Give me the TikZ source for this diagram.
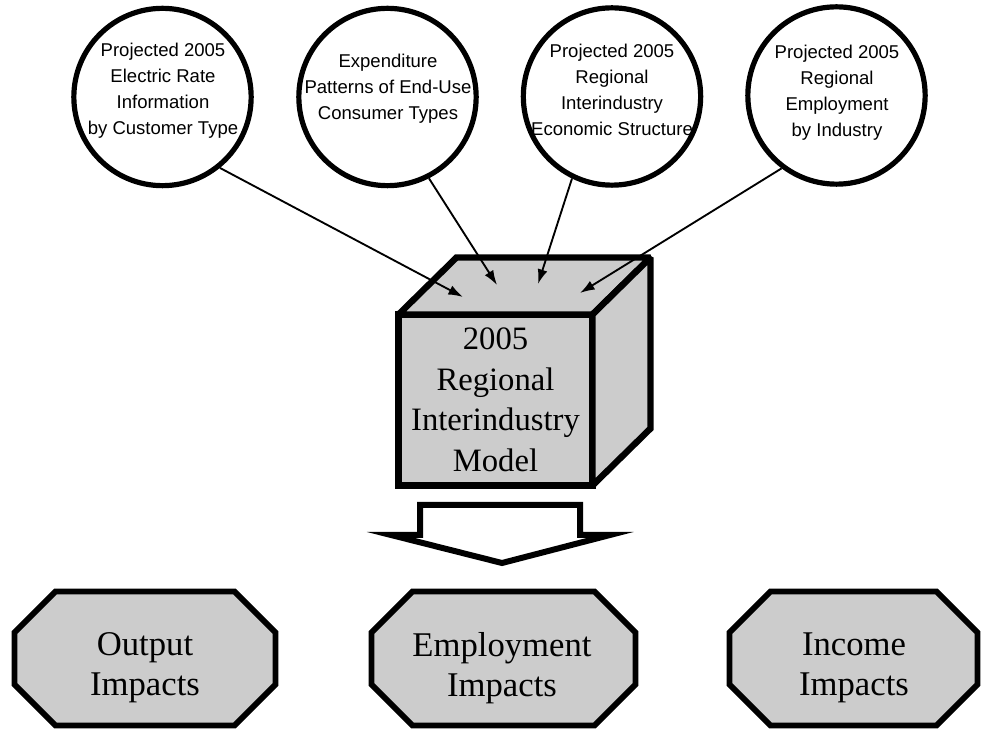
\documentclass[tikz,border=0pt]{standalone}
\usepackage{fontspec}
\setmainfont{Liberation Serif}
\newfontfamily\arialf{Liberation Sans}
\usetikzlibrary{arrows.meta}
\definecolor{stip}{gray}{0.8}
\begin{document}
\begin{tikzpicture}[x=0.75pt,y=-0.75pt,
  src/.style={circle,draw,line width=3.9pt,minimum size=133pt,inner sep=0pt},
  srctext/.style={font=\arialf\fontsize{13.9}{19.5}\selectfont,align=center,inner sep=0pt},
  feed/.style={line width=1.4pt,-{Latex[length=11pt,width=7.5pt]}},
  face/.style={draw,fill=stip,line width=4.8pt,miter limit=1.6},
  cubetext/.style={font=\fontsize{24.5}{30.4}\selectfont,align=center},
  outbox/.style={draw,fill=stip,line width=4.3pt},
  outtext/.style={font=\fontsize{26}{30}\selectfont,align=center,inner sep=0pt},
  hollow/.style={draw,fill=white,line width=4.5pt}]
\useasboundingbox (0,0) rectangle (983,730);

% source circles
\node[src] (c1) at (162.5,97) {};
\node[src] (c2) at (387.5,97) {};
\node[src] (c3) at (612,96.5) {};
\node[src] (c4) at (836.5,95.5) {};
\node[srctext] (l1) at (163,91) {Projected 2005\\Electric Rate\\Information\\by Customer Type};
\node[srctext] (l2) at (388,88.5) {Expenditure\\Patterns of End-Use\\Consumer Types};
\node[srctext] (l3) at (612,90) {Projected 2005\\Regional\\Interindustry\\Economic Structure};
\node[srctext] (l4) at (837,93) {Projected 2005\\Regional\\Employment\\by Industry};

% cube
\node[face,cubetext,outer sep=0pt,minimum width=145.5pt,minimum height=128.25pt] (model) at (495.5,400)
  {2005\\Regional\\Interindustry\\Model};
\path[face] (model.north west) -- ++(58,-57) -- ++(194,0) -- (model.north east) -- cycle;
\path[face] (model.north east) -- ++(58,-57) -- ++(0,171) -- (model.south east) -- cycle;

% arrow targets on top face
\coordinate (t1) at (463,297);
\coordinate (t2) at (497,285);
\coordinate (t3) at (538,284);
\coordinate (t4) at (580,293);
\draw[feed] (c1.-51) -- (t1);
\draw[feed] (c2.-63) -- (t2);
\draw[feed] (c3.-116.6) -- (t3);
\draw[feed] (c4.-127.3) -- (t4);

% hollow arrow
\path[hollow] (420,505) -- (580,505) -- (580,535) -- (610,535) -- (502,563)
  -- (391,535) -- (420,535) -- cycle;

% output octagons
\foreach \l/\r in {14.5/275.5, 371.5/635.5, 729.5/977.5}
  \path[outbox] (\l+41,591.5) -- (\r-41,591.5) -- (\r,632.5) -- (\r,684.5) -- (\r-41,725.5)
    -- (\l+41,725.5) -- (\l,684.5) -- (\l,632.5) -- cycle;
\node[outtext] (o1) at (145,668) {Output\\Impacts};
\node[outtext] (o2) at (502,668) {Employment\\Impacts};
\node[outtext] (o3) at (854,668) {Income\\Impacts};
\end{tikzpicture}
\end{document}
